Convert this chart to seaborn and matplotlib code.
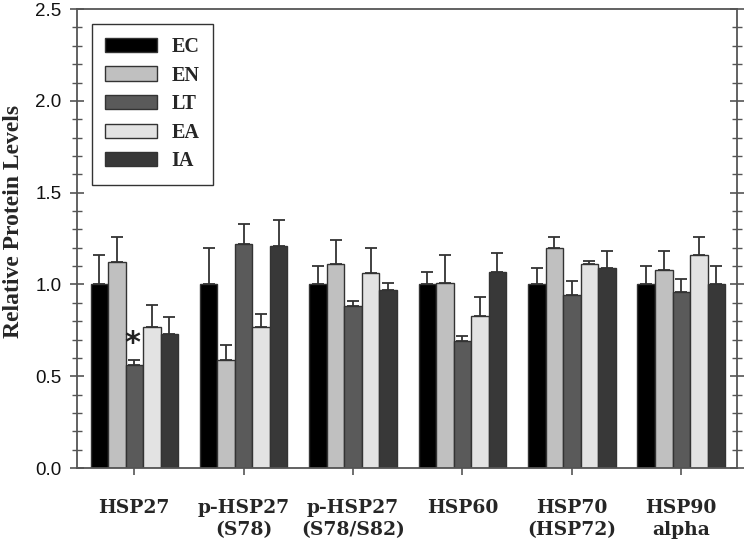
import numpy as np
import pandas as pd
import seaborn as sns
import matplotlib.pyplot as plt
from matplotlib.ticker import MultipleLocator

# Relative protein levels per heat shock protein and group
proteins = ['HSP27', 'p-HSP27\n(S78)', 'p-HSP27\n(S78/S82)', 'HSP60', 'HSP70\n(HSP72)', 'HSP90\nalpha']
groups = ['EC', 'EN', 'LT', 'EA', 'IA']

ec = [1.00, 1.00, 1.00, 1.00, 1.00, 1.00]
en = [1.12, 0.59, 1.11, 1.01, 1.20, 1.08]
lt = [0.56, 1.22, 0.88, 0.69, 0.94, 0.96]
ea = [0.77, 0.77, 1.06, 0.83, 1.11, 1.16]
ia = [0.73, 1.21, 0.97, 1.07, 1.09, 1.00]

# Upper error (SEM) for each bar
ec_err = [0.16, 0.20, 0.10, 0.07, 0.09, 0.10]
en_err = [0.14, 0.08, 0.13, 0.15, 0.06, 0.10]
lt_err = [0.03, 0.11, 0.03, 0.03, 0.08, 0.07]
ea_err = [0.12, 0.07, 0.14, 0.10, 0.02, 0.10]
ia_err = [0.09, 0.14, 0.04, 0.10, 0.09, 0.10]

colors = ['#000000', '#c0c0c0', '#5a5a5a', '#e3e3e3', '#383838']

values = [ec, en, lt, ea, ia]
errors = [ec_err, en_err, lt_err, ea_err, ia_err]

rows = []
for g, vals in zip(groups, values):
    for p, v in zip(proteins, vals):
        rows.append({'Protein': p, 'Group': g, 'Level': v})
df = pd.DataFrame(rows)

sns.set_style('ticks')
fig = plt.figure(figsize=(7.46, 5.47), dpi=100)
ax = fig.add_axes([0.103, 0.1444, 0.885, 0.839])

sns.barplot(data=df, x='Protein', y='Level', hue='Group', order=proteins,
            hue_order=groups, palette=colors, errorbar=None, width=0.8,
            edgecolor='#333333', linewidth=1.0, ax=ax)

# one-sided error bars on top of each bar
for cont, vals, errs in zip(ax.containers, values, errors):
    xs = [b.get_x() + b.get_width() / 2 for b in cont]
    ax.errorbar(xs, vals, yerr=[np.zeros(len(errs)), errs], fmt='none',
                ecolor='#333333', elinewidth=1.3, capsize=4.3, capthick=1.3, zorder=1)

# significance marker above LT in HSP27
ax.text(-0.02, lt[0] + lt_err[0] + 0.09, '*', ha='center', va='center',
        fontsize=22, fontweight='bold', color='#222222')

ax.set_xlim(-0.525, 5.51)
ax.set_ylim(0, 2.5)
ax.yaxis.set_major_locator(MultipleLocator(0.5))
ax.yaxis.set_minor_locator(MultipleLocator(0.1))
ax.set_yticks(np.arange(0, 2.51, 0.5))
ax.set_yticklabels(['0.0', '0.5', '1.0', '1.5', '2.0', '2.5'],
                   fontsize=13.5, family='Liberation Sans', color='#111111')
ax.tick_params(axis='y', which='major', direction='inout', length=10, width=1.2,
               color='#555555', right=True, pad=6)
ax.tick_params(axis='y', which='minor', direction='inout', length=7, width=1.0,
               color='#555555', right=True)
ax.tick_params(axis='x', which='major', direction='out', length=5, width=1.2,
               color='#555555', pad=17)
for lab in ax.get_xticklabels():
    lab.set_fontfamily('DejaVu Serif')
    lab.set_fontweight('bold')
    lab.set_fontsize(13.5)
    lab.set_linespacing(1.3)

ax.set_xlabel('')
ax.set_ylabel('Relative Protein Levels', fontsize=17, fontweight='bold',
              family='Liberation Serif', labelpad=8)
ax.yaxis.label.set_y(0.538)

for s in ax.spines.values():
    s.set_visible(True)
    s.set_color('#555555')
    s.set_linewidth(1.3)

leg = ax.legend(loc='upper left', bbox_to_anchor=(0.023, 0.968), frameon=True,
                fancybox=False, edgecolor='#000000', handlelength=2.6,
                handleheight=0.7, handletextpad=0.7, labelspacing=0.43,
                borderpad=0.65, borderaxespad=0,
                prop={'family': 'Liberation Serif', 'weight': 'bold', 'size': 14.5})
leg.get_frame().set_linewidth(1.0)
leg.set_title(None)

fig.savefig('out.png', dpi=100)
